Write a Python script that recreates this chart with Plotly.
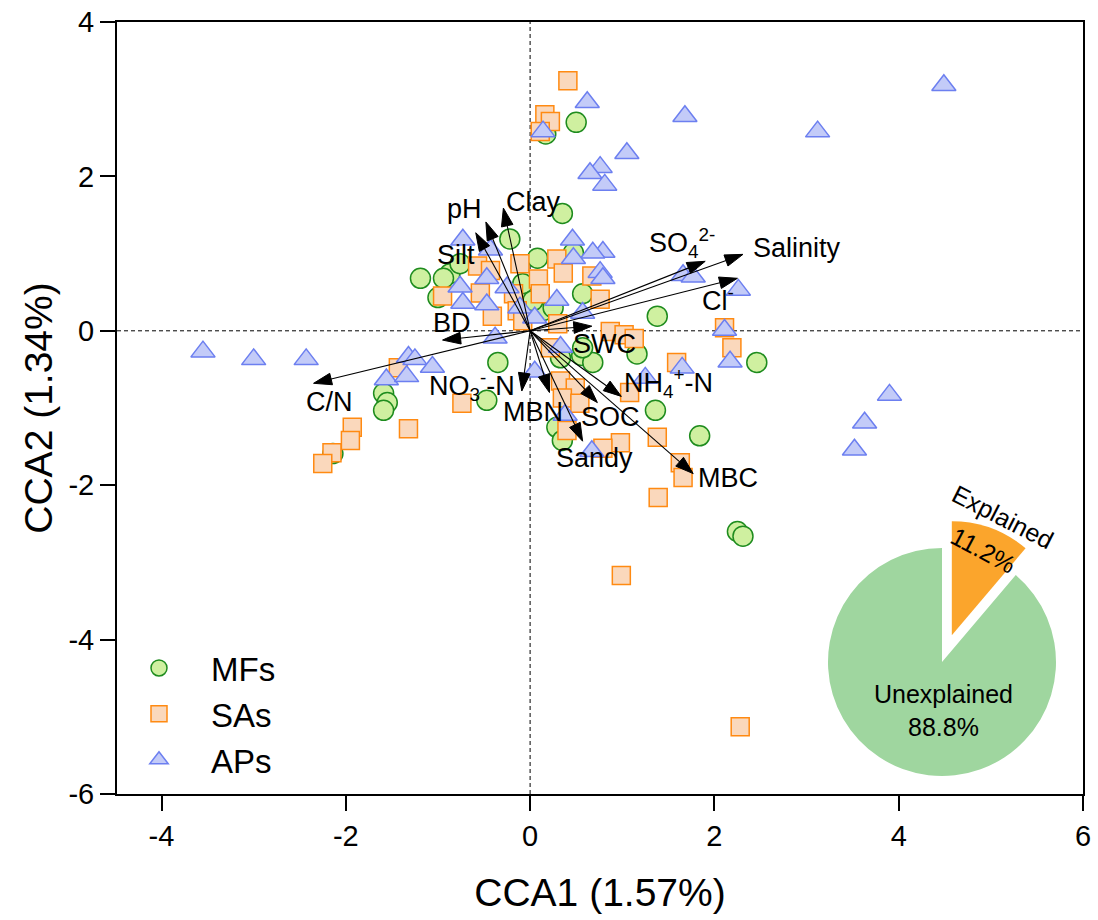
import plotly.graph_objects as go

# ---------------- data ----------------
mf_x = [0.50, 0.17, 0.35, -0.22, 0.08, 0.47, -0.87, -0.94, -1.00, -0.76, 0.57, -0.08, 0.14, 0.25,
        1.38, 2.46, 1.84, 1.36, 2.25, 2.31, -0.35, -0.47, -1.59, -1.55, -1.59, -2.14, 0.29, 0.35,
        0.33, 0.56, 0.68, 1.16, 0.57, -1.19, 0.03]
mf_y = [2.70, 2.55, 1.52, 1.19, 0.94, 1.01, 0.74, 0.68, 0.43, 0.87, 0.48, 0.61, 0.26, 0.30,
        0.19, -0.41, -1.36, -1.03, -2.60, -2.66, -0.41, -0.90, -0.81, -0.93, -1.03, -1.59, -1.25, -1.42,
        -0.35, -0.32, -0.41, -0.30, -0.22, 0.68, 0.39]

sa_x = [0.41, 0.16, 0.22, 0.11, -0.11, -0.57, 0.29, 0.36, 0.09, 0.11, 0.67, 0.76, -0.95, -0.54,
        -0.41, -0.18, -0.14, -0.08, 0.30, 0.87, 1.02, 1.13, 0.22, 0.33, 0.49, 0.35, 0.54, 1.08,
        0.40, 0.98, 0.79, 1.38, 1.59, 1.63, 1.66, 1.39, 0.99, 2.28, 2.11, 2.19, -0.74, -1.32,
        -1.93, -1.95, -2.15, -2.25, -1.43, -0.43]
sa_y = [3.24, 2.80, 2.71, 2.58, 0.87, 0.84, 0.93, 0.75, 0.67, 0.48, 0.71, 0.41, 0.45, 0.49,
        0.19, 0.48, 0.26, 0.13, 0.09, -0.01, -0.05, -0.10, -0.22, -0.65, -0.74, -0.87, -0.94, -0.80,
        -1.29, -1.45, -1.52, -1.38, -0.41, -1.71, -1.90, -2.16, -3.17, -5.13, 0.04, -0.22, -0.94, -1.27,
        -1.25, -1.42, -1.58, -1.72, -0.48, 0.78]

ap_x = [4.49, 3.12, 1.68, 0.62, 0.14, 1.05, 0.76, 0.65, 0.81, 0.46, 0.79, 0.68, 0.47, 0.76,
        0.79, 1.66, 1.77, 2.26, 2.11, 2.17, 1.65, 1.25, 3.90, 3.63, 3.52, 0.67, 0.38, 0.05,
        0.33, -3.55, -3.00, -2.43, -1.32, -1.25, -1.06, -1.56, -1.34, -0.38, -0.73, -0.43, -0.47,
        -0.76, -0.73, -0.47, -0.25, -0.11, 0.05, 0.29, 0.57]
ap_y = [3.18, 2.58, 2.78, 2.96, 2.58, 2.30, 2.12, 2.04, 1.89, 1.18, 1.02, 1.01, 0.94, 0.76,
        0.68, 0.72, 0.70, 0.53, 0.01, -0.40, -0.48, -0.61, -0.83, -1.19, -1.54, -1.56, -1.09, -0.53,
        -0.21, -0.27, -0.37, -0.37, -0.34, -0.37, -0.47, -0.63, -0.59, -0.09, 1.18, 1.05, 0.68,
        0.57, 0.36, 0.34, 0.56, 0.30, 0.17, 0.40, 0.23]

env_names = ["pH", "Silt", "Clay", "BD", "C/N", "SWC",
             "SO<sub>4</sub><sup>2-</sup>", "Salinity", "Cl<sup>-</sup>",
             "NO<sub>3</sub><sup>-</sup>-N", "MBN", "Sandy", "SOC",
             "NH<sub>4</sub><sup>+</sup>-N", "MBC"]
env_x = [-0.48, -0.59, -0.29, -0.95, -2.35, 0.67, 1.90, 2.31, 2.25, -0.09, 0.21, 0.57, 0.73, 0.99, 1.77]
env_y = [1.41, 1.27, 1.59, -0.12, -0.68, 0.06, 0.90, 0.99, 0.68, -0.78, -0.80, -1.43, -0.93, -0.85, -1.85]

pie_labels = ["Explained", "Unexplained"]
pie_values = [11.2, 88.8]

x_ticks = [-4, -2, 0, 2, 4, 6]
y_ticks = [-6, -4, -2, 0, 2, 4]

# ---------------- styles / layout helpers (pixels) ----------------
label_dx = [-21, -20, 30, 9, 16, 13, -23, 54, -19, -50, -16, 12, 13, 47, 35]
label_dy = [-13, 22, -6, -17, 19, 18, -18, -6, 21, -5, 19, 17, 14, -13, 4]

W, H = 1098, 920
PL, PR, PT, PB = 117, 1083, 22, 794   # plot-area pixel box
FONT = "Liberation Sans, Arial, Helvetica, sans-serif"

fig = go.Figure()

fig.add_trace(go.Scatter(
    x=mf_x, y=mf_y, mode="markers", name="MFs",
    marker=dict(symbol="circle", size=20, color="#cff0a0",
                line=dict(color="#1e8c1e", width=1.5))))
fig.add_trace(go.Scatter(
    x=sa_x, y=sa_y, mode="markers", name="SAs",
    marker=dict(symbol="square", size=18, color="#fad8bc",
                line=dict(color="#ff8a12", width=1.5))))
fig.add_trace(go.Scatter(
    x=ap_x, y=ap_y, mode="markers", name="APs",
    marker=dict(symbol="triangle-up", size=21, color="#c3cbf8",
                line=dict(color="#6c7ff0", width=1.5))))

for i, nm in enumerate(env_names):
    fig.add_trace(go.Scatter(
        x=[0, env_x[i]], y=[0, env_y[i]], mode="lines+markers",
        line=dict(color="#000000", width=1.1),
        marker=dict(symbol="arrow", size=[0, 19], color="#000000", opacity=1,
                    angleref="previous", line=dict(width=1, color="#000000")),
        opacity=1, showlegend=False, hoverinfo="skip"))
    fig.add_annotation(x=env_x[i], y=env_y[i], xref="x", yref="y",
                       text=nm, showarrow=False,
                       xanchor="center", yanchor="middle",
                       xshift=label_dx[i], yshift=-label_dy[i],
                       font=dict(family=FONT, size=27, color="black"))

# pie inset
cx, cy, r, pull = 942, 662, 114, 0.25
half = r * (1 + pull)
fig.add_trace(go.Pie(
    labels=pie_labels, values=pie_values, sort=False, direction="clockwise",
    rotation=0, pull=[pull, 0], textinfo="none", hoverinfo="skip",
    showlegend=False,
    marker=dict(colors=["#fba52c", "#9fd69f"], line=dict(width=0)),
    domain=dict(x=[(cx - half) / W, (cx + half) / W],
                y=[(H - cy - half) / H, (H - cy + half) / H])))

pie_font = dict(family=FONT, size=25, color="black")
fig.add_annotation(x=943 / W, y=1 - 710 / H, xref="paper", yref="paper",
                   xanchor="center", yanchor="middle",
                   text=f"{pie_labels[1]}<br>{pie_values[1]}%", showarrow=False,
                   font=pie_font)
fig.add_annotation(x=1003 / W, y=1 - 517 / H, xref="paper", yref="paper",
                   xanchor="center", yanchor="middle",
                   text=pie_labels[0], showarrow=False, textangle=27, font=pie_font)
fig.add_annotation(x=983 / W, y=1 - 550 / H, xref="paper", yref="paper",
                   xanchor="center", yanchor="middle",
                   text=f"{pie_values[0]}%", showarrow=False, textangle=28, font=pie_font)

# dashed zero lines
fig.add_shape(type="line", xref="x", yref="y domain", x0=0, x1=0, y0=0, y1=1,
              line=dict(color="black", width=1, dash="4px,3px"), layer="below")
fig.add_shape(type="line", xref="x domain", yref="y", x0=0, x1=1, y0=0, y1=0,
              line=dict(color="black", width=1, dash="4px,3px"), layer="below")

axis_common = dict(showgrid=False, zeroline=False, showline=True, linecolor="black",
                   linewidth=2, mirror=True, ticks="outside", ticklen=15, tickwidth=2,
                   tickcolor="black", automargin=False,
                   tickfont=dict(family=FONT, size=29, color="black"))

fig.update_layout(
    width=W, height=H,
    margin=dict(l=0, r=0, t=0, b=0),
    paper_bgcolor="white", plot_bgcolor="white",
    font=dict(family=FONT, color="black"),
    xaxis=dict(domain=[PL / W, PR / W], range=[-4.483, 6.0], tickvals=x_ticks,
               ticktext=[str(v) for v in x_ticks],
               title=dict(text="CCA1 (1.57%)", font=dict(family=FONT, size=39), standoff=28),
               **axis_common),
    yaxis=dict(domain=[1 - PB / H, 1 - PT / H], range=[-6, 4], tickvals=y_ticks,
               ticktext=[str(v) for v in y_ticks],
               title=dict(text="CCA2 (1.34%)", font=dict(family=FONT, size=39), standoff=4),
               **axis_common),
    legend=dict(x=107 / W, y=1 - 640 / H, xanchor="left", yanchor="top",
                bgcolor="rgba(0,0,0,0)", itemwidth=94,
                font=dict(family=FONT, size=33, color="black")),
    showlegend=True,
)

fig.write_html("out.html")
